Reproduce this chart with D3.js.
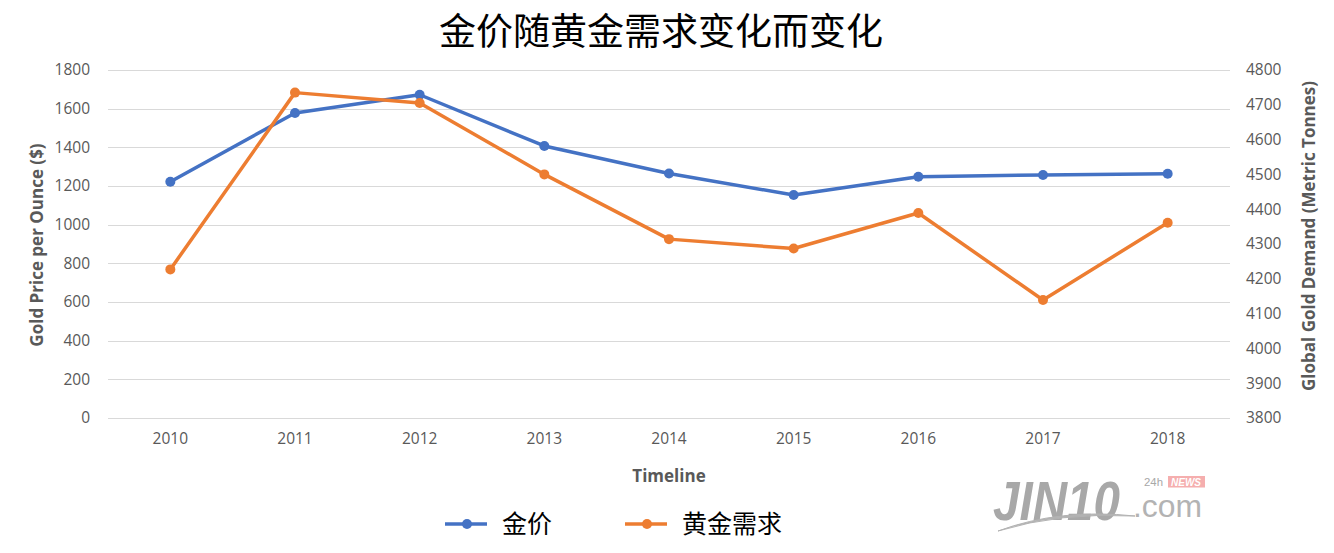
<!DOCTYPE html>
<html>
<head>
<meta charset="utf-8">
<script src="https://cdn.jsdelivr.net/npm/d3@7"></script>
<style>
  body { margin: 0; background: #fff; }
  svg { display: block; }
  .tick text { font-family: "Open Sans", "Noto Sans", sans-serif; font-size: 15.5px; fill: #595959; }
  .axis-title { font-family: "Open Sans", "Noto Sans", sans-serif; font-size: 17px; font-weight: bold; fill: #595959; }
</style>
</head>
<body>
<svg id="chart" width="1334" height="553"></svg>
<script>
// data
var years = ["2010", "2011", "2012", "2013", "2014", "2015", "2016", "2017", "2018"];
var goldPrice = [1222, 1578, 1672, 1407, 1265, 1153, 1248, 1257, 1263];
var goldDemand = [4227, 4735, 4705, 4500, 4314, 4287, 4389, 4139, 4361];
var priceTicks = [0, 200, 400, 600, 800, 1000, 1200, 1400, 1600, 1800];
var demandTicks = [3800, 3900, 4000, 4100, 4200, 4300, 4400, 4500, 4600, 4700, 4800];
var seriesNames = ["金价", "黄金需求"];
var colors = ["#4472C4", "#ED7D31"];

var svg = d3.select("#chart");
var plotLeft = 108, plotRight = 1230, plotTop = 70, plotBottom = 418;

var x = d3.scaleBand().domain(years).range([plotLeft, plotRight]);
var yL = d3.scaleLinear().domain([0, 1800]).range([plotBottom, plotTop]);
var yR = d3.scaleLinear().domain([3800, 4800]).range([plotBottom, plotTop]);

// title
svg.append("text")
  .attr("x", 661).attr("y", 45)
  .attr("text-anchor", "middle")
  .style("font-family", "'Noto Sans CJK SC', sans-serif")
  .style("font-size", "37px")
  .style("fill", "#000")
  .text("金价随黄金需求变化而变化");

// gridlines
svg.append("g").selectAll("line")
  .data(priceTicks).enter().append("line")
  .attr("x1", plotLeft).attr("x2", plotRight)
  .attr("y1", function(d){ return Math.round(yL(d)) + 0.5; })
  .attr("y2", function(d){ return Math.round(yL(d)) + 0.5; })
  .attr("stroke", "#d9d9d9").attr("stroke-width", 1);

// axes
var gL = svg.append("g").attr("transform", "translate(" + plotLeft + ",0)")
  .call(d3.axisLeft(yL).tickValues(priceTicks).tickFormat(d3.format("d")).tickSize(0).tickPadding(18));
gL.select(".domain").remove();

var gR = svg.append("g").attr("transform", "translate(" + plotRight + ",0)")
  .call(d3.axisRight(yR).tickValues(demandTicks).tickFormat(d3.format("d")).tickSize(0).tickPadding(16));
gR.select(".domain").remove();

var gX = svg.append("g").attr("transform", "translate(0," + plotBottom + ")")
  .call(d3.axisBottom(x).tickSize(0).tickPadding(15));
gX.select(".domain").remove();

// axis titles
svg.append("text").attr("class", "axis-title")
  .attr("transform", "translate(43,245) rotate(-90)")
  .attr("text-anchor", "middle")
  .text("Gold Price per Ounce ($)");

svg.append("text").attr("class", "axis-title")
  .attr("transform", "translate(1315,236) rotate(-90)")
  .attr("text-anchor", "middle")
  .text("Global Gold Demand (Metric Tonnes)");

svg.append("text").attr("class", "axis-title")
  .attr("x", 669).attr("y", 482)
  .attr("text-anchor", "middle")
  .text("Timeline");

// series
var cx = function(d, i){ return x(years[i]) + x.bandwidth() / 2; };
var series = [
  { values: goldPrice, y: yL },
  { values: goldDemand, y: yR }
];

series.forEach(function(s, k) {
  var line = d3.line()
    .x(function(d, i){ return cx(d, i); })
    .y(function(d){ return s.y(d); });
  svg.append("path")
    .datum(s.values)
    .attr("d", line)
    .attr("fill", "none")
    .attr("stroke", colors[k])
    .attr("stroke-width", 3.5)
    .attr("stroke-linejoin", "round");
  svg.append("g").selectAll("circle")
    .data(s.values).enter().append("circle")
    .attr("cx", cx)
    .attr("cy", function(d){ return s.y(d); })
    .attr("r", 5)
    .attr("fill", colors[k]);
});

// legend
var legX = [445, 625];
var leg = svg.append("g");
seriesNames.forEach(function(name, k) {
  var g = leg.append("g").attr("transform", "translate(" + legX[k] + ",524)");
  g.append("line").attr("x1", 0).attr("x2", 42).attr("y1", 0).attr("y2", 0)
    .attr("stroke", colors[k]).attr("stroke-width", 3.5);
  g.append("circle").attr("cx", 22).attr("cy", 0).attr("r", 5).attr("fill", colors[k]);
  g.append("text").attr("x", 57).attr("y", 9)
    .style("font-family", "'Noto Sans CJK SC', sans-serif")
    .style("font-size", "25px")
    .style("fill", "#000")
    .text(name);
});

// watermark
var wm = svg.append("g").attr("opacity", 0.85);
wm.append("text")
  .attr("x", 993).attr("y", 520)
  .attr("textLength", 127).attr("lengthAdjust", "spacingAndGlyphs")
  .style("font-family", "'Liberation Sans', sans-serif")
  .style("font-size", "56px").style("font-weight", "bold").style("font-style", "italic")
  .style("fill", "#999")
  .text("JIN10");
wm.append("text")
  .attr("x", 1133).attr("y", 517)
  .attr("textLength", 69).attr("lengthAdjust", "spacingAndGlyphs")
  .style("font-family", "'Liberation Sans', sans-serif")
  .style("font-size", "31px")
  .style("fill", "#a6a6a6")
  .text(".com");
wm.append("path")
  .attr("d", "M998,531 Q1060,508 1135,516 Q1060,512 998,531 Z")
  .attr("fill", "#a6a6a6").attr("stroke", "#a6a6a6").attr("stroke-width", 1);
wm.append("text")
  .attr("x", 1144).attr("y", 485.5)
  .attr("textLength", 19).attr("lengthAdjust", "spacingAndGlyphs")
  .style("font-family", "'Liberation Sans', sans-serif")
  .style("font-size", "10px").style("fill", "#999")
  .text("24h");
wm.append("rect")
  .attr("x", 1168).attr("y", 476).attr("width", 37).attr("height", 11.5)
  .attr("fill", "#f4a0a0");
wm.append("text")
  .attr("x", 1186).attr("y", 485.5)
  .attr("text-anchor", "middle")
  .style("font-family", "'Liberation Sans', sans-serif")
  .style("font-size", "10px").style("font-style", "italic").style("font-weight", "bold")
  .style("fill", "#fff")
  .text("NEWS");
</script>
</body>
</html>
